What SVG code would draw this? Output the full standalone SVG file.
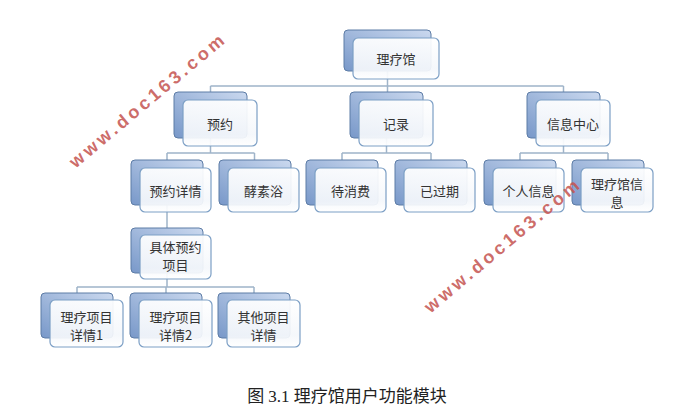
<svg xmlns="http://www.w3.org/2000/svg" width="673" height="414" viewBox="0 0 673 414">
<defs>
<linearGradient id="bg" x1="1" y1="0" x2="0" y2="1">
<stop offset="0" stop-color="#cbd9ef"/>
<stop offset="1" stop-color="#7898c9"/>
</linearGradient>
<linearGradient id="fg" x1="0" y1="0" x2="0" y2="1">
<stop offset="0" stop-color="#ffffff"/>
<stop offset="0.75" stop-color="#f4f7fb"/>
<stop offset="1" stop-color="#ffffff"/>
</linearGradient>
</defs>
<style>
.bk{fill:url(#bg);stroke:#5d7ca6;stroke-width:1}
.fr{fill:url(#fg);fill-opacity:0.93;stroke:#7c9fc5;stroke-width:1.2}
.t{font-family:"Noto Sans CJK SC","Liberation Sans",sans-serif;font-size:13px;fill:#333;text-anchor:middle;dominant-baseline:central}
.c{fill:none;stroke:#9fb4c9;stroke-width:1.5}
.wm{font-family:"Liberation Sans",sans-serif;font-weight:bold;font-size:18px;fill:#c4534f;fill-opacity:0.85;letter-spacing:3.5px;text-anchor:middle;dominant-baseline:central}
.cap{font-family:"Liberation Serif","Noto Sans CJK SC",serif;font-size:17px;fill:#222;text-anchor:middle}
</style>
<rect width="673" height="414" fill="#ffffff"/>
<g id="connectors">
<path class="c" d="M387.5 71V86M210.5 86H563.5M210.5 86V92M387.5 86V92M563.5 86V92"/>
<path class="c" d="M210.5 138V153M167 153H254.5M167 153V160M254.5 153V160"/>
<path class="c" d="M386.5 138V153M342 153H431M342 153V160M431 153V160"/>
<path class="c" d="M563.5 138V153M520 153H608M520 153V160M608 153V160"/>
<path class="c" d="M167 205V228"/>
<path class="c" d="M167 273V287M77 287H254M77 287V293M166 287V293M254 287V293"/>
</g>
<g id="n-root"><rect class="bk" x="344" y="30" width="87" height="41" rx="4"/><rect class="fr" x="353" y="38" width="86" height="41" rx="5"/><text class="t" x="396" y="58.5">理疗馆</text></g>
<g id="n-yuyue"><rect class="bk" x="174" y="92" width="73" height="46" rx="4"/><rect class="fr" x="183" y="100" width="74" height="46" rx="5"/><text class="t" x="220" y="123">预约</text></g>
<g id="n-jilu"><rect class="bk" x="350" y="92" width="73" height="46" rx="4"/><rect class="fr" x="359" y="100" width="74" height="46" rx="5"/><text class="t" x="396" y="123">记录</text></g>
<g id="n-xinxi"><rect class="bk" x="527" y="92" width="73" height="46" rx="4"/><rect class="fr" x="536" y="100" width="74" height="46" rx="5"/><text class="t" x="573" y="123">信息中心</text></g>
<g id="n-xiangqing"><rect class="bk" x="131" y="160" width="72" height="45" rx="4"/><rect class="fr" x="140" y="168" width="71" height="44" rx="5"/><text class="t" x="175.5" y="190">预约详情</text></g>
<g id="n-jiaosu"><rect class="bk" x="219" y="160" width="72" height="45" rx="4"/><rect class="fr" x="228" y="168" width="71" height="44" rx="5"/><text class="t" x="263.5" y="190">酵素浴</text></g>
<g id="n-daixiaofei"><rect class="bk" x="306" y="160" width="72" height="45" rx="4"/><rect class="fr" x="315" y="168" width="71" height="44" rx="5"/><text class="t" x="350.5" y="190">待消费</text></g>
<g id="n-yiguoqi"><rect class="bk" x="395" y="160" width="72" height="45" rx="4"/><rect class="fr" x="404" y="168" width="71" height="44" rx="5"/><text class="t" x="439.5" y="190">已过期</text></g>
<g id="n-geren"><rect class="bk" x="484" y="160" width="72" height="45" rx="4"/><rect class="fr" x="493" y="168" width="71" height="44" rx="5"/><text class="t" x="528.5" y="190">个人信息</text></g>
<g id="n-guanxinxi"><rect class="bk" x="572" y="160" width="72" height="45" rx="4"/><rect class="fr" x="581" y="168" width="72" height="44" rx="5"/><text class="t" x="617" y="183">理疗馆信</text><text class="t" x="617" y="201">息</text></g>
<g id="n-juti"><rect class="bk" x="131" y="228" width="72" height="45" rx="4"/><rect class="fr" x="140" y="235" width="71" height="44" rx="5"/><text class="t" x="175.5" y="246.5">具体预约</text><text class="t" x="175.5" y="264.5">项目</text></g>
<g id="n-x1"><rect class="bk" x="41" y="293" width="72" height="45" rx="4"/><rect class="fr" x="50" y="300" width="73" height="47" rx="5"/><text class="t" x="86.5" y="316">理疗项目</text><text class="t" x="86.5" y="334">详情1</text></g>
<g id="n-x2"><rect class="bk" x="130" y="293" width="72" height="45" rx="4"/><rect class="fr" x="139" y="300" width="73" height="47" rx="5"/><text class="t" x="175.5" y="316">理疗项目</text><text class="t" x="175.5" y="334">详情2</text></g>
<g id="n-x3"><rect class="bk" x="218" y="293" width="72" height="45" rx="4"/><rect class="fr" x="227" y="300" width="73" height="47" rx="5"/><text class="t" x="263.5" y="316">其他项目</text><text class="t" x="263.5" y="334">详情</text></g>
<text class="wm" transform="translate(148 100) rotate(-40)">www.doc163.com</text>
<text class="wm" transform="translate(503 245) rotate(-40)">www.doc163.com</text>
<text class="cap" x="347" y="402">图 3.1 理疗馆用户功能模块</text>
</svg>
